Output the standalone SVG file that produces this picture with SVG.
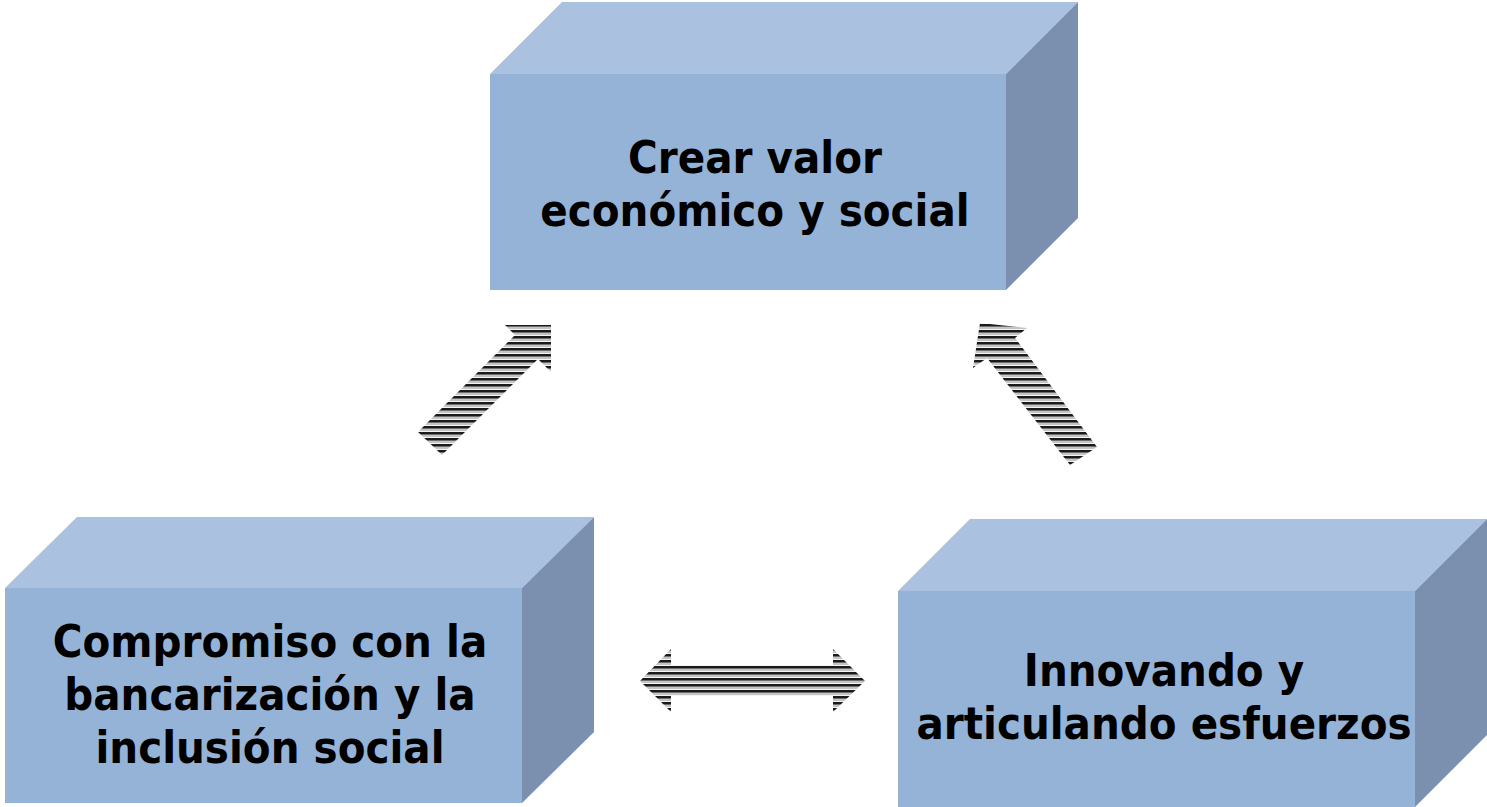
<svg xmlns="http://www.w3.org/2000/svg" width="1487" height="807" viewBox="0 0 1487 807">
<style>
.top{fill:#AAC1DF}
.front{fill:#95B3D7}
.side{fill:#7A90AE}
.lbl{font-family:"DejaVu Sans Condensed","Liberation Sans",Arial,sans-serif;font-weight:bold;font-size:45px;fill:#000;text-anchor:middle}
.arr{fill:url(#stripes)}
</style>
<defs>
<pattern id="stripes" patternUnits="userSpaceOnUse" width="8" height="6">
<rect x="0" y="0" width="8" height="6" fill="#f4f4f4"/>
<rect x="0" y="0" width="8" height="2" fill="#1a1a1a"/>
<rect x="0" y="2" width="8" height="1" fill="#6e6e6e"/>
<rect x="0" y="3" width="8" height="2" fill="#c4c4c4"/>
</pattern>
</defs>
<rect width="1487" height="807" fill="#ffffff"/>
<g id="node-top">
<polygon class="top" points="490,74 562,2 1078,2 1006,74"/>
<polygon class="side" points="1006,74 1078,2 1078,218 1006,290"/>
<rect class="front" x="490" y="74" width="516" height="216"/>
<text class="lbl" x="755" y="173">Crear valor</text>
<text class="lbl" x="755" y="226">económico y social</text>
</g>
<g id="node-left">
<polygon class="top" points="5,588 77,517 594,517 522,588"/>
<polygon class="side" points="522,588 594,517 594,732 522,803"/>
<rect class="front" x="5" y="588" width="517" height="215"/>
<text class="lbl" x="270" y="657">Compromiso con la</text>
<text class="lbl" x="270" y="710">bancarización y la</text>
<text class="lbl" x="270" y="763">inclusión social</text>
</g>
<g id="node-right">
<polygon class="top" points="898,591 970,519 1487,519 1415,591"/>
<polygon class="side" points="1415,591 1487,519 1487,735 1415,807"/>
<rect class="front" x="898" y="591" width="517" height="216"/>
<text class="lbl" x="1164" y="686">Innovando y</text>
<text class="lbl" x="1164" y="739">articulando esfuerzos</text>
</g>
<g id="connectors">
<polygon class="arr" points="418,432 515,335 505,325 551,325 551,372 538,359 442,455"/>
<polygon class="arr" points="980,323 1027,328 1015,338 1097,447 1070,465 987,358 973,368"/>
<polygon class="arr" points="640,681 671,649 671,665 833,665 833,649 865,681 833,712 833,696 671,696 671,712"/>
</g>
</svg>
